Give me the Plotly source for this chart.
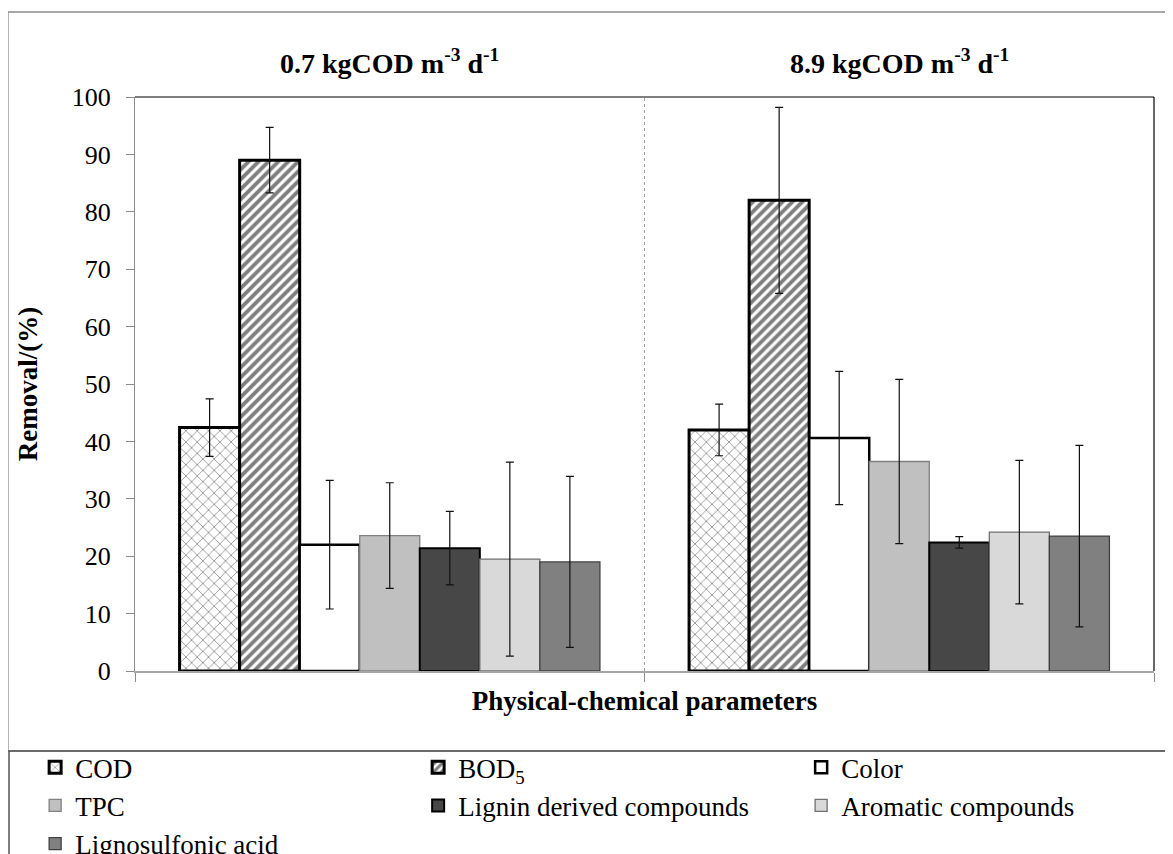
import plotly.graph_objects as go

# ---- data ----
groups = ["0.7 kgCOD m<sup>-3</sup> d<sup>-1</sup>", "8.9 kgCOD m<sup>-3</sup> d<sup>-1</sup>"]
group_pos = [0, 1]
series_names = ["COD", "BOD<sub>5</sub>", "Color", "TPC", "Lignin derived compounds",
                "Aromatic compounds", "Lignosulfonic acid"]
cod = [42.4, 42.0]
bod5 = [89.0, 82.0]
color = [22.0, 40.6]
tpc = [23.6, 36.5]
lignin = [21.4, 22.4]
aromatic = [19.5, 24.2]
lignosulfonic = [19.0, 23.5]
cod_err = [5.0, 4.5]
bod5_err = [5.7, 16.2]
color_err = [11.2, 11.6]
tpc_err = [9.2, 14.3]
lignin_err = [6.4, 1.0]
aromatic_err = [16.9, 12.5]
lignosulfonic_err = [14.9, 15.8]
y_ticks = [0, 10, 20, 30, 40, 50, 60, 70, 80, 90, 100]

values = [cod, bod5, color, tpc, lignin, aromatic, lignosulfonic]
errors = [cod_err, bod5_err, color_err, tpc_err, lignin_err, aromatic_err, lignosulfonic_err]

styles = [
    dict(color="white", line=dict(color="black", width=3),
         pattern=dict(shape="x", fgcolor="#333333", bgcolor="white", size=8, solidity=0.22)),
    dict(color="white", line=dict(color="black", width=3),
         pattern=dict(shape="/", fgcolor="black", bgcolor="white", size=7, solidity=0.55)),
    dict(color="white", line=dict(color="black", width=2.5)),
    dict(color="#c0c0c0", line=dict(color="#808080", width=1.3)),
    dict(color="#474747", line=dict(color="black", width=2)),
    dict(color="#d9d9d9", line=dict(color="#707070", width=1.3)),
    dict(color="#808080", line=dict(color="#404040", width=1.3)),
]

FONT = "Liberation Serif"

# page body has an 8px margin: figure pixel = reference pixel - 8
OFF = 8
W, H = 1173 - OFF, 854 - OFF
pl, pr, pt, pb = 135 - OFF, 1154 - OFF, 97 - OFF, 671 - OFF

def px(xp):
    return (xp - OFF - pl) / (pr - pl)

def py(yp):
    return (pb - (yp - OFF)) / (pb - pt)

fig = go.Figure()
for name, vals, errs, st in zip(series_names, values, errors, styles):
    fig.add_trace(go.Bar(
        x=group_pos, y=vals, name=name, marker=st,
        error_y=dict(type="data", array=errs, visible=True, color="#111111",
                     thickness=1.2, width=4),
    ))

fig.update_layout(
    width=W, height=H,
    margin=dict(l=pl, r=W - pr, t=pt, b=H - pb, autoexpand=False),
    paper_bgcolor="white", plot_bgcolor="white",
    barmode="group", bargap=0.175, bargroupgap=0,
    font=dict(family=FONT, size=26, color="black"),
    showlegend=True,
    legend=dict(orientation="h", x=-0.098, xanchor="left", y=-0.126, yanchor="top",
                font=dict(family=FONT, size=27, color="black"),
                entrywidth=338, entrywidthmode="pixels",
                bgcolor="rgba(0,0,0,0)", traceorder="normal", itemclick=False),
    xaxis=dict(range=[-0.5, 1.5], tickvals=[-0.5, 0.5, 1.5], ticktext=["", "", ""],
               ticks="outside", ticklen=9, tickcolor="#8c8c8c",
               showline=True, linecolor="#a6a6a6", linewidth=1.5, showgrid=False,
               zeroline=False, automargin=False,
               title=dict(text="<b>Physical-chemical parameters</b>",
                          font=dict(family=FONT, size=27), standoff=5)),
    yaxis=dict(range=[0, 100], tickvals=y_ticks, ticks="outside", ticklen=8,
               tickcolor="#8c8c8c", showline=True, linecolor="#8c8c8c", linewidth=1,
               showgrid=False, zeroline=False, ticklabelstandoff=10, automargin=False,
               tickfont=dict(family=FONT, size=26),
               title=dict(text="<b>Removal/(%)</b>",
                          font=dict(family=FONT, size=27), standoff=26)),
)

# plot-area top and right borders, group divider
fig.add_shape(type="line", xref="paper", yref="paper", x0=0, x1=1, y0=1, y1=1,
              line=dict(color="black", width=1.2))
fig.add_shape(type="line", xref="paper", yref="paper", x0=1, x1=1, y0=0, y1=1,
              line=dict(color="black", width=1.2))
fig.add_shape(type="line", xref="x", yref="y", x0=0.5, x1=0.5, y0=0, y1=100,
              line=dict(color="#a0a0a0", width=1, dash="3px,3px"))

# outer chart frame and legend frame
fig.add_shape(type="rect", xref="paper", yref="paper",
              x0=px(8), x1=px(1190), y0=py(751), y1=py(12),
              line=dict(color="#8c8c8c", width=1.3), layer="below")
fig.add_shape(type="rect", xref="paper", yref="paper",
              x0=px(9), x1=px(1190), y0=py(880), y1=py(751),
              line=dict(color="#555555", width=1.5), layer="below")

for g, xpos in zip(groups, group_pos):
    fig.add_annotation(x=xpos, xref="x", y=py(62), yref="paper",
                       text="<b>" + g + "</b>", showarrow=False,
                       font=dict(family=FONT, size=28, color="black"),
                       xanchor="center", yanchor="middle")

fig.write_html("out.html")
